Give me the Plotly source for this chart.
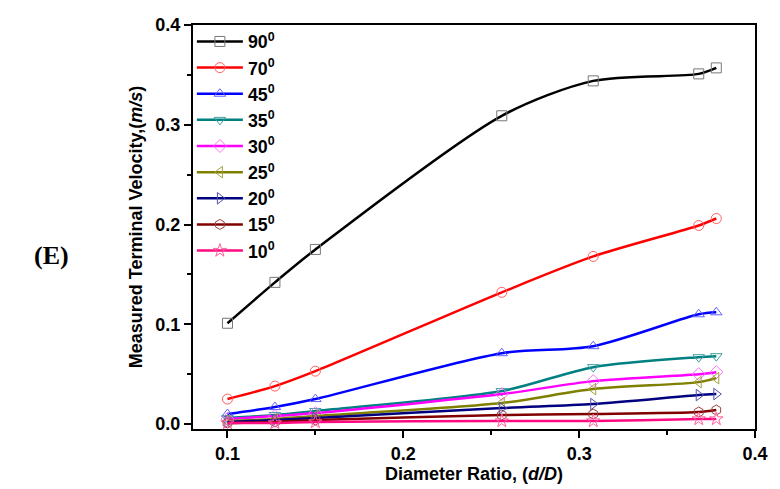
import plotly.graph_objects as go

x_ratio = [0.1, 0.127, 0.15, 0.256, 0.308, 0.368, 0.378]
angles = ["90", "70", "45", "35", "30", "25", "20", "15", "10"]
v90 = [0.101, 0.142, 0.175, 0.309, 0.344, 0.351, 0.357]
v70 = [0.025, 0.038, 0.053, 0.132, 0.168, 0.199, 0.206]
v45 = [0.010, 0.017, 0.025, 0.071, 0.078, 0.110, 0.112]
v35 = [0.006, 0.009, 0.013, 0.033, 0.057, 0.067, 0.068]
v30 = [0.005, 0.008, 0.011, 0.030, 0.043, 0.050, 0.052]
v25 = [0.003, 0.005, 0.008, 0.021, 0.035, 0.042, 0.046]
v20 = [0.002, 0.004, 0.006, 0.016, 0.020, 0.029, 0.030]
v15 = [0.001, 0.002, 0.004, 0.009, 0.010, 0.012, 0.014]
v10 = [0.001, 0.001, 0.002, 0.003, 0.003, 0.005, 0.005]
series = [v90, v70, v45, v35, v30, v25, v20, v15, v10]

colors = ["#000000", "#FF0000", "#0000FF", "#008080", "#FF00FF",
          "#808000", "#000080", "#800000", "#FF0A80"]
symbols = ["square-open", "circle-open", "triangle-up-open", "triangle-down-open",
           "diamond-open", "triangle-left-open", "triangle-right-open",
           "hexagon-open", "star-open"]
mcolors = ["#777777", "#FF6060", "#6060FF", "#40A0A0", "#FF70FF",
           "#A0A040", "#5050B0", "#A04040", "#FF60A0"]

fig = go.Figure()
for a, v, c, s, mc in zip(angles, series, colors, symbols, mcolors):
    fig.add_trace(go.Scatter(
        x=x_ratio, y=v, mode="lines+markers", name=f"<b>{a}<sup>0</sup></b>",
        line=dict(color=c, width=2.5, shape="spline", smoothing=0.8),
        marker=dict(symbol=s, size=10, color=mc, line=dict(color=mc, width=1)),
    ))

FONT = "Arial, Liberation Sans"
axis_font = dict(family=FONT, size=18, color="black")
fig.update_layout(
    width=780, height=489,
    margin=dict(l=193, r=18, t=25, b=60),
    paper_bgcolor="white", plot_bgcolor="white",
    font=dict(family=FONT, color="black"),
    showlegend=True,
    legend=dict(x=-0.002, y=1.004, xanchor="left", yanchor="top",
                bgcolor="rgba(0,0,0,0)", itemwidth=46, maxheight=600,
                font=dict(family=FONT, size=17.8, color="black"),
                tracegroupgap=0),
    xaxis=dict(range=[0.0804, 0.4], tickvals=[0.1, 0.2, 0.3, 0.4],
               ticktext=["<b>0.1</b>", "<b>0.2</b>", "<b>0.3</b>", "<b>0.4</b>"],
               ticks="outside", ticklen=7, tickwidth=2, tickcolor="black",
               minor=dict(tickvals=[0.15, 0.25, 0.35], ticks="outside", ticklen=4,
                          tickwidth=2, tickcolor="black"),
               showline=True, linewidth=2, linecolor="black", mirror=True,
               showgrid=False, zeroline=False, tickfont=axis_font,
               title=dict(text="<b>Diameter Ratio, (<i>d/D</i>)</b>",
                          font=dict(family=FONT, size=18), standoff=0)),
    yaxis=dict(range=[-0.005, 0.4], tickvals=[0.0, 0.1, 0.2, 0.3, 0.4],
               ticktext=["<b>0.0</b>", "<b>0.1</b>", "<b>0.2</b>", "<b>0.3</b>", "<b>0.4</b>"],
               ticks="outside", ticklen=7, tickwidth=2, tickcolor="black",
               minor=dict(tickvals=[0.05, 0.15, 0.25, 0.35], ticks="outside", ticklen=4,
                          tickwidth=2, tickcolor="black"),
               showline=True, linewidth=2, linecolor="black", mirror=True,
               showgrid=False, zeroline=False, tickfont=axis_font,
               title=dict(text="<b>Measured Terminal Velocity,(<i>m/s</i>)</b>",
                          font=dict(family=FONT, size=18), standoff=8)),
)
fig.add_annotation(text="<b>(E)</b>", xref="paper", yref="paper",
                   x=-0.252, y=0.43, xanchor="center", yanchor="middle", showarrow=False,
                   font=dict(family="Liberation Serif, Times New Roman", size=26, color="black"))

fig.write_html("out.html", config={"displayModeBar": False},
               post_script="document.body.style.margin='0';")
